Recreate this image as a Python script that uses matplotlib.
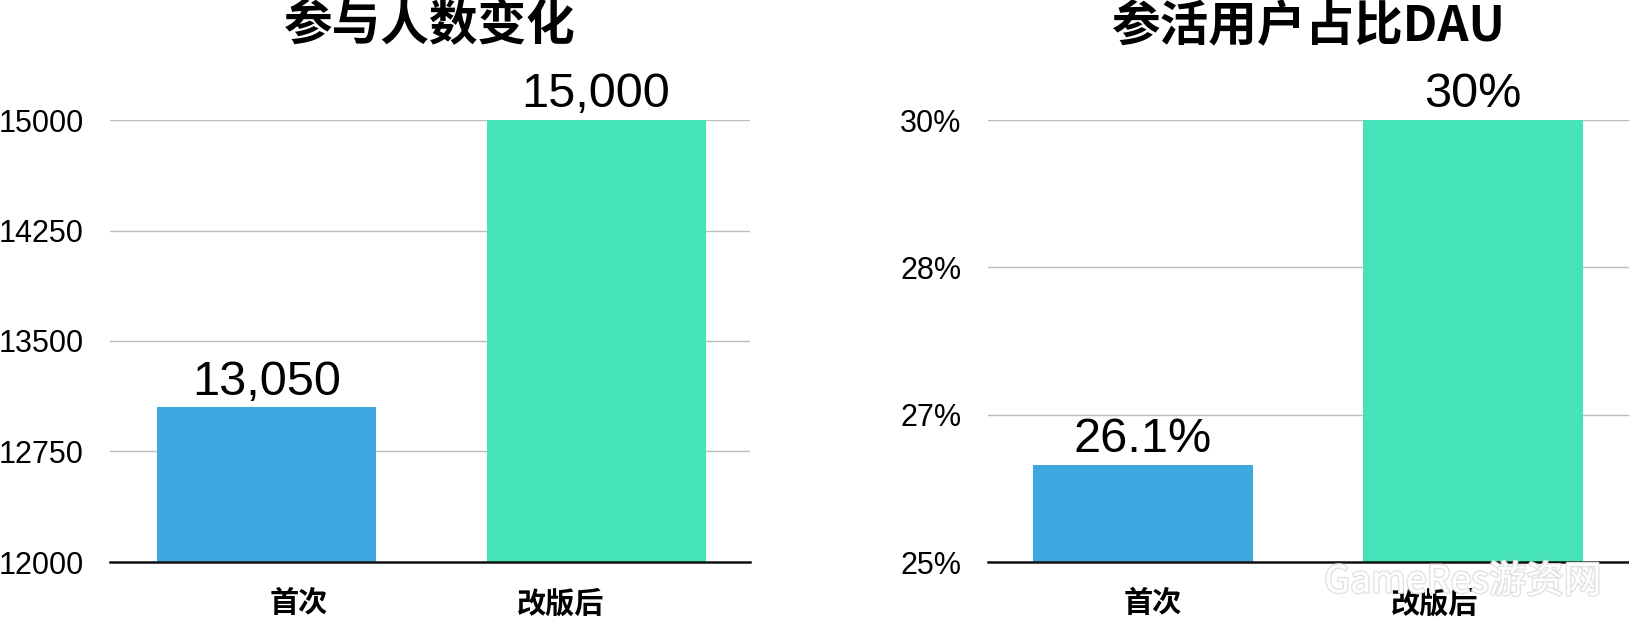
import matplotlib
matplotlib.use("Agg")
import matplotlib.pyplot as plt
import matplotlib.transforms as mtransforms
import matplotlib.patheffects as pe
import numpy as np

# ---- data ----
categories = ["首次", "改版后"]
participants = [13050, 15000]
participant_labels = ["13,050", "15,000"]
left_ticks = [12000, 12750, 13500, 14250, 15000]
left_ticklabels = ["12000", "12750", "13500", "14250", "15000"]

active_share = [26.1, 30.0]
active_labels = ["26.1%", "30%"]
right_ticks = [25.0, 25 + 5 / 3, 25 + 10 / 3, 30.0]
right_ticklabels = ["25%", "27%", "28%", "30%"]

titles = ["参与人数变化", "参活用户占比DAU"]
bar_colors = ["#3FA7E0", "#46E2BA"]

num_font = ["Liberation Sans", "DejaVu Sans"]
cjk_font = ["Noto Sans CJK SC", "DejaVu Sans"]

W, H = 1629, 618
fig = plt.figure(figsize=(W / 100, H / 100), dpi=100)

def px_axes(x0, x1, ytop, ybot):
    return fig.add_axes([x0 / W, 1 - ybot / H, (x1 - x0) / W, (ybot - ytop) / H])

axL = px_axes(110, 750, 120, 562)
axR = px_axes(988, 1629, 120, 562)

def style(ax, ylim, xlim, ticks, ticklabels, values, vlabels, title, label_shift):
    x = np.arange(len(categories))
    ax.bar(x, values, width=0.665, color=bar_colors, zorder=2)
    ax.set_ylim(*ylim)
    ax.set_xlim(*xlim)
    ax.set_yticks(ticks)
    ax.set_yticklabels(ticklabels, fontsize=22, family=num_font)
    # category labels sit slightly off the bar centres in the original
    ax.set_xticks(x + np.array(label_shift))
    ax.set_xticklabels(categories, fontsize=21, family=cjk_font, fontweight="bold")
    ax.tick_params(axis="y", length=0, pad=19)
    ax.tick_params(axis="x", length=0, pad=19)
    ax.yaxis.grid(True, color="#bcbcbc", linewidth=1.0, zorder=0)
    for s in ["top", "right", "left"]:
        ax.spines[s].set_visible(False)
    ax.spines["bottom"].set_color("#111111")
    ax.spines["bottom"].set_linewidth(1.8)
    ax.spines["bottom"].set_zorder(3)
    for xi, v, lab in zip(x, values, vlabels):
        ax.annotate(lab, (xi, v), xytext=(0, 2), textcoords="offset points",
                    ha="center", va="bottom", fontsize=35, family=num_font)
    ax.text(0.5, (H - 26) / H, title, transform=mtransforms.blended_transform_factory(
        ax.transAxes, fig.transFigure), ha="center", va="center",
        fontsize=35, family=cjk_font, fontweight="bold")

style(axL, (12000, 15000), (-0.475, 1.467), left_ticks, left_ticklabels,
      participants, participant_labels, titles[0], (0.097, -0.109))
style(axR, (25, 30), (-0.47, 1.473), right_ticks, right_ticklabels,
      active_share, active_labels, titles[1], (0.03, -0.115))

# watermark
fig.text(1463 / W, 1 - 582 / H, "GameRes游资网", ha="center", va="center",
         fontsize=27, family=cjk_font, color="white", zorder=10,
         path_effects=[pe.withStroke(linewidth=2, foreground="#e2e2e2")])

fig.savefig("out.png", dpi=100, facecolor="white")
